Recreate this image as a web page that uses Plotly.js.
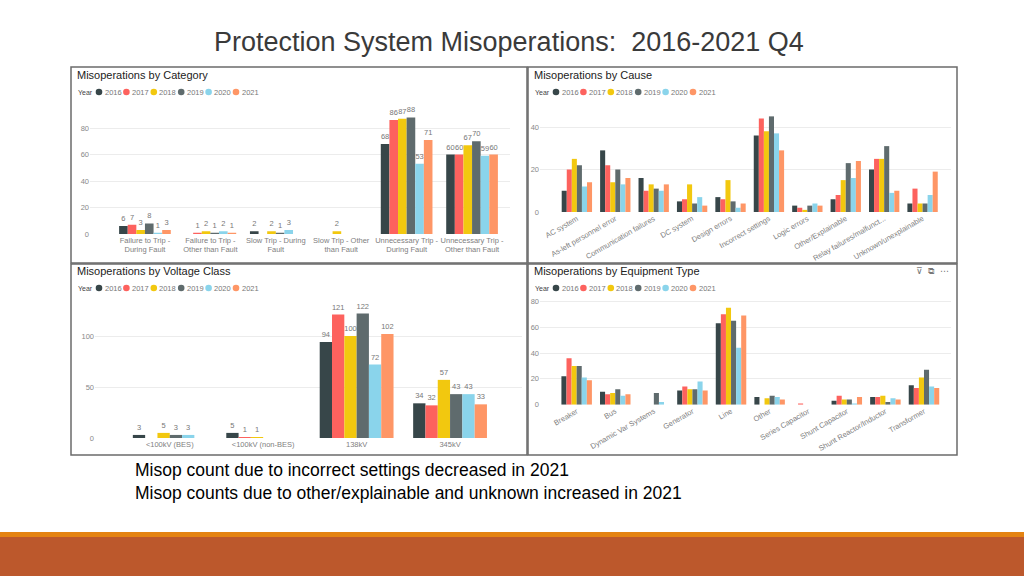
<!DOCTYPE html>
<html>
<head>
<meta charset="utf-8">
<script src="https://cdn.plot.ly/plotly-3.0.1.min.js"></script>
<style>
html,body{margin:0;padding:0;background:#fff;}
#chart{width:1024px;height:576px;}
</style>
</head>
<body>
<div id="chart"></div>
<script>
// ---------- DATA ----------
const years = ['2016', '2017', '2018', '2019', '2020', '2021'];

const categoryLabels = ['Failure to Trip -<br>During Fault', 'Failure to Trip -<br>Other than Fault',
  'Slow Trip - During<br>Fault', 'Slow Trip - Other<br>than Fault',
  'Unnecessary Trip -<br>During Fault', 'Unnecessary Trip -<br>Other than Fault'];
// rows = years 2016..2021, columns = categories
const categoryCounts = [
  [6, null, 2, null, 68, 60],
  [7, 1, null, null, 86, 60],
  [3, 2, 2, 2, 87, 67],
  [8, 1, 1, null, 88, 70],
  [1, 2, 3, null, 53, 59],
  [3, 1, null, null, 71, 60]
];

const causeLabels = ['AC system', 'As-left personnel error', 'Communication failures', 'DC system',
  'Design errors', 'Incorrect settings', 'Logic errors', 'Other/Explainable',
  'Relay failures/malfunct...', 'Unknown/unexplainable'];
const causeCounts = [
  [10, 29, 16, 5, 7, 36, 3, 6, 20, 4],
  [20, 22, 10, 6, 6, 44, 2, 8, 25, 11],
  [25, 14, 13, 13, 15, 38, 1, 15, 25, 4],
  [22, 20, 11, 4, 5, 45, 3, 23, 31, 4],
  [12, 13, 10, 7, 2, 37, 4, 16, 9, 8],
  [14, 16, 13, 3, 4, 29, 3, 24, 10, 19]
];

const voltageLabels = ['<100kV (BES)', '<100kV (non-BES)', '138kV', '345kV'];
const voltageCounts = [
  [3, 5, 94, 34],
  [null, 1, 121, 32],
  [5, 1, 100, 57],
  [3, null, 122, 43],
  [3, null, 72, 43],
  [null, null, 102, 33]
];

const equipmentLabels = ['Breaker', 'Bus', 'Dynamic Var Systems', 'Generator', 'Line', 'Other',
  'Series Capacitor', 'Shunt Capacitor', 'Shunt Reactor/Inductor', 'Transformer'];
const equipmentCounts = [
  [22, 10, null, 11, 63, 6, null, 3, 6, 15],
  [36, 8, null, 14, 70, null, 1, 7, 6, 13],
  [30, 9, null, 12, 75, 5, null, 4, 7, 21],
  [30, 12, 9, 12, 65, 7, null, 4, 2, 27],
  [21, 7, 2, 18, 44, 6, null, 1, 5, 14],
  [19, 8, null, 11, 69, 4, null, 6, 4, 13]
];

const pageTitle = 'Protection System Misoperations:  2016-2021 Q4';
const panelTitles = ['Misoperations by Category', 'Misoperations by Cause',
  'Misoperations by Voltage Class', 'Misoperations by Equipment Type'];
const legendTitle = 'Year';
const notes = ['Misop count due to incorrect settings decreased in 2021',
  'Misop counts due to other/explainable and unknown increased in 2021'];

// ---------- STYLE ----------
const yearColors = ['#374649', '#FD625E', '#F2C80F', '#5F6B6D', '#8AD4EB', '#FE9666'];
const W = 1024, H = 576;
const px = x => x / W;
const py = y => 1 - y / H;
const FONT = 'Liberation Sans, Arial, sans-serif';

const panels = [
  {labels: categoryLabels, counts: categoryCounts, xa: 'x', ya: 'y', showText: true},
  {labels: causeLabels, counts: causeCounts, xa: 'x2', ya: 'y2', showText: false},
  {labels: voltageLabels, counts: voltageCounts, xa: 'x3', ya: 'y3', showText: true},
  {labels: equipmentLabels, counts: equipmentCounts, xa: 'x4', ya: 'y4', showText: false}
];

const traces = [];
panels.forEach(p => {
  years.forEach((yr, i) => {
    const t = {
      type: 'bar',
      name: yr,
      x: p.labels,
      y: p.counts[i],
      xaxis: p.xa,
      yaxis: p.ya,
      marker: {color: yearColors[i]},
      showlegend: false,
      hoverinfo: 'skip',
      cliponaxis: false
    };
    if (p.showText) {
      t.text = p.counts[i].map(v => v == null ? '' : String(v));
      t.textposition = 'outside';
      t.constraintext = 'none';
      t.textfont = {size: 7.5, color: '#777', family: FONT};
    }
    traces.push(t);
  });
});

const gridCol = '#ececec';
const tickFont = {size: 7.5, color: '#888', family: FONT};
function yax(bottom, top, maxv, dtick) {
  return {domain: [py(bottom), py(top)], range: [0, maxv], dtick: dtick, showgrid: true,
    gridcolor: gridCol, zeroline: false, showline: false, ticks: '', tickfont: tickFont,
    fixedrange: true};
}
function xax(left, right, r0, r1, angle) {
  return {domain: [px(left), px(right)], type: 'category', range: [r0, r1], showgrid: false,
    zeroline: false, showline: false, ticks: '', tickfont: {size: 7.5, color: '#808080', family: FONT},
    tickangle: angle, fixedrange: true, automargin: false};
}

const layout = {
  width: W, height: H,
  margin: {l: 0, r: 0, t: 0, b: 0},
  paper_bgcolor: '#fff', plot_bgcolor: 'rgba(0,0,0,0)',
  barmode: 'group', bargap: 0.21, bargroupgap: 0,
  showlegend: false,
  font: {family: FONT},
  xaxis: xax(90, 510, -0.84, 5.58, 0),
  yaxis: yax(234, 109.5, 94, 20),
  xaxis2: xax(540, 951, -0.96, 9.74, -30),
  yaxis2: yax(212, 105, 50.35, 20),
  xaxis3: xax(95, 522, -0.80, 3.77, 0),
  yaxis3: yax(438, 295, 140.2, 50),
  xaxis4: xax(540, 951, -0.95, 9.70, -30),
  yaxis4: yax(404.7, 298, 82.55, 20),
  shapes: [],
  annotations: []
};
layout.yaxis.anchor = 'x'; layout.xaxis.anchor = 'y';
layout.yaxis2.anchor = 'x2'; layout.xaxis2.anchor = 'y2';
layout.yaxis3.anchor = 'x3'; layout.xaxis3.anchor = 'y3';
layout.yaxis4.anchor = 'x4'; layout.xaxis4.anchor = 'y4';

// panel borders
const boxes = [[71, 67, 527, 263], [528, 67, 957, 263], [71, 264, 527, 455], [528, 264, 957, 455]];
boxes.forEach(b => {
  layout.shapes.push({type: 'rect', xref: 'paper', yref: 'paper', x0: px(b[0]), x1: px(b[2]),
    y0: py(b[3]), y1: py(b[1]), line: {color: '#6b6b6b', width: 1.5}, fillcolor: 'rgba(0,0,0,0)', layer: 'above'});
});
// bottom band
layout.shapes.push({type: 'rect', xref: 'paper', yref: 'paper', x0: 0, x1: 1, y0: py(537), y1: py(532),
  line: {width: 0}, fillcolor: '#E48312'});
layout.shapes.push({type: 'rect', xref: 'paper', yref: 'paper', x0: 0, x1: 1, y0: 0, y1: py(537),
  line: {width: 0}, fillcolor: '#BC582C'});

// page title
layout.annotations.push({xref: 'paper', yref: 'paper', x: px(509), y: py(42), text: pageTitle,
  showarrow: false, xanchor: 'center', yanchor: 'middle',
  font: {size: 27, color: '#3a3a3a', family: FONT}});

// panel titles + legends (dots drawn as circle shapes)
const titlePos = [[75, 75], [532, 75], [75, 271], [532, 271]];
titlePos.forEach((p, k) => {
  layout.annotations.push({xref: 'paper', yref: 'paper', x: px(p[0]), y: py(p[1]), text: panelTitles[k],
    showarrow: false, xanchor: 'left', yanchor: 'middle', font: {size: 11, color: '#222', family: FONT}});
  const ly = p[1] + 17;
  layout.annotations.push({xref: 'paper', yref: 'paper', x: px(p[0] + 1), y: py(ly), text: legendTitle,
    showarrow: false, xanchor: 'left', yanchor: 'middle', font: {size: 7, color: '#444', family: FONT}});
  years.forEach((yr, i) => {
    const cx = p[0] + 24 + 27.4 * i;
    layout.shapes.push({type: 'circle', xref: 'paper', yref: 'paper',
      x0: px(cx - 3.3), x1: px(cx + 3.3), y0: py(ly + 3.3), y1: py(ly - 3.3),
      fillcolor: yearColors[i], line: {width: 0}});
    layout.annotations.push({xref: 'paper', yref: 'paper', x: px(cx + 3.5), y: py(ly), text: yr,
      showarrow: false, xanchor: 'left', yanchor: 'middle', font: {size: 7.5, color: '#777', family: FONT}});
  });
});

// visual-header icons in the equipment panel
layout.annotations.push({xref: 'paper', yref: 'paper', x: px(951), y: py(271), text: '⊽ &nbsp;⧉ &nbsp;⋯',
  showarrow: false, xanchor: 'right', yanchor: 'middle', font: {size: 9, color: '#777', family: 'DejaVu Sans'}});

// notes
notes.forEach((n, i) => {
  layout.annotations.push({xref: 'paper', yref: 'paper', x: px(133), y: py(470 + i * 23), text: n,
    showarrow: false, xanchor: 'left', yanchor: 'middle', font: {size: 17.5, color: '#000', family: FONT}});
});

Plotly.newPlot('chart', traces, layout, {staticPlot: true, displayModeBar: false});
</script>
</body>
</html>
